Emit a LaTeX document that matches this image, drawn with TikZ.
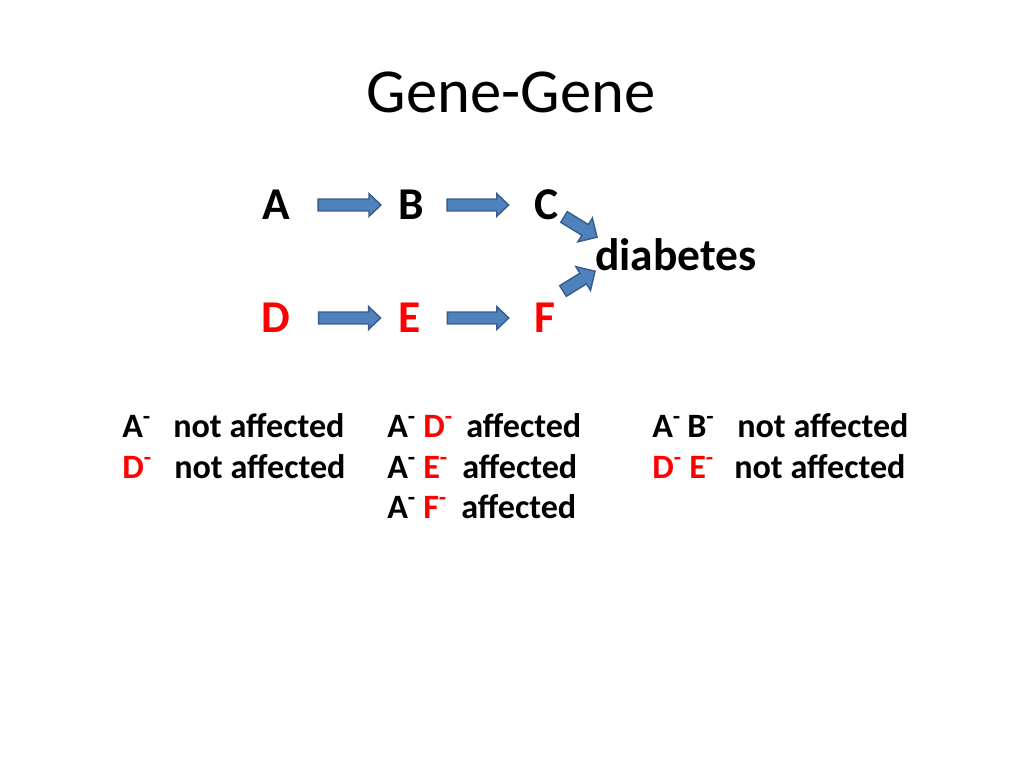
\documentclass[tikz,border=0pt]{standalone}
\usepackage{fontspec}
\setmainfont{Carlito}
\usetikzlibrary{calc}
\definecolor{arrowfill}{HTML}{4F81BD}
\definecolor{arrowline}{HTML}{385D8A}
\definecolor{pptred}{HTML}{FF0000}
% block arrow from #1 to #2; #3 half shaft width, #4 half head width, #5 head length
\newcommand{\blockarr}[5]{%
  \path[blockarrow]
   let \p1=#1, \p2=#2,
       \n1={atan2(\y2-\y1,\x2-\x1)},
       \n2={veclen(\x2-\x1,\y2-\y1)} in
   ($(\p1)+(\n1+90:#3)$)
   -- ($(\p1)+(\n1:{\n2-#5})+(\n1+90:#3)$)
   -- ($(\p1)+(\n1:{\n2-#5})+(\n1+90:#4)$)
   -- (\p2)
   -- ($(\p1)+(\n1:{\n2-#5})+(\n1-90:#4)$)
   -- ($(\p1)+(\n1:{\n2-#5})+(\n1-90:#3)$)
   -- ($(\p1)+(\n1-90:#3)$)
   -- cycle;}
\tikzset{
  blockarrow/.style={draw=arrowline, fill=arrowfill, line width=1pt, line join=miter},
  titletext/.style={font=\fontsize{44}{53}\selectfont, inner sep=0pt},
  lab/.style={font=\bfseries\fontsize{32}{38}\selectfont, inner sep=0pt},
  txt/.style={font=\bfseries\fontsize{24}{29}\selectfont, inner sep=0pt, anchor=base west},
  red/.style={text=pptred}
}
\newcommand{\mn}{\textsuperscript{-}}
\begin{document}
\begin{tikzpicture}[x=0.703125pt, y=-0.703125pt]
\useasboundingbox[fill=white] (0,0) rectangle (1024,768);
% title
\node[titletext, anchor=base] (title) at (511,113) {Gene-Gene};
% gene labels
\node[lab] (A) at (276,205) {A};
\node[lab] (B) at (411,205) {B};
\node[lab] (C) at (547,205) {C};
\node[lab, red] (D) at (276,318) {D};
\node[lab, red] (E) at (410,318) {E};
\node[lab, red] (F) at (545,318) {F};
\node[lab, anchor=base] (diab) at (676,271) {diabetes};
% arrows
\blockarr{($(A.east)+(28,0)$)}{($(B.west)+(-17,0)$)}{4.2pt}{8pt}{8.4pt}
\blockarr{($(B.east)+(23,0)$)}{($(C.west)+(-26,0)$)}{4.2pt}{8pt}{8.4pt}
\blockarr{($(D.east)+(28,0)$)}{($(E.west)+(-18,0)$)}{4.2pt}{8pt}{8.4pt}
\blockarr{($(E.east)+(26,0)$)}{($(F.west)+(-25.5,0)$)}{4.2pt}{8pt}{8.4pt}
\blockarr{($(C)+(17,12)$)}{($(diab.west)+(2,-18)$)}{4.4pt}{9.8pt}{9.8pt}
\blockarr{($(F)+(18,-27)$)}{($(diab.west)+(0,16)$)}{4.4pt}{9.8pt}{9.8pt}
% bottom text, column 1
\node[txt] (c1a) at (122,437) {A\mn};
\node[txt] (c1at) at (173,437) {not affected};
\node[txt, red] (c1d) at (122,478) {D\mn};
\node[txt] (c1dt) at (174,478) {not affected};
% column 2
\node[txt] (c2a1) at (387,437) {A\mn};
\node[txt, red] (c2d) at (423,437) {D\mn};
\node[txt] (c2t1) at (466,437) {affected};
\node[txt] (c2a2) at (387,478) {A\mn};
\node[txt, red] (c2e) at (423,478) {E\mn};
\node[txt] (c2t2) at (462,478) {affected};
\node[txt] (c2a3) at (387,518) {A\mn};
\node[txt, red] (c2f) at (423,518) {F\mn};
\node[txt] (c2t3) at (461,518) {affected};
% column 3
\node[txt] (c3a) at (652,437) {A\mn};
\node[txt] (c3b) at (687,437) {B\mn};
\node[txt] (c3t1) at (737,437) {not affected};
\node[txt, red] (c3d) at (652,478) {D\mn};
\node[txt, red] (c3e) at (689,478) {E\mn};
\node[txt] (c3t2) at (734,478) {not affected};
\end{tikzpicture}
\end{document}
